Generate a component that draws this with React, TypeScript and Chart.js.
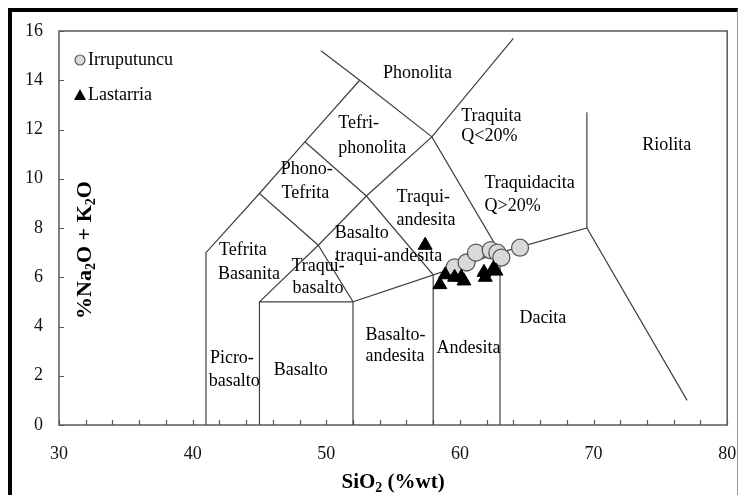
import React, { useEffect, useRef } from 'react';
import { Chart, registerables } from 'chart.js';
Chart.register(...registerables);

// ---- Data ----
const irruputuncuSiO2 = [59.6, 60.5, 61.2, 62.3, 62.8, 63.1, 64.5];
const irruputuncuAlk = [6.4, 6.6, 7.0, 7.1, 7.0, 6.8, 7.2];
const lastarriaSiO2 = [57.4, 58.5, 58.9, 59.6, 60.1, 60.3, 61.8, 61.9, 62.5, 62.7];
const lastarriaAlk = [7.3, 5.7, 6.1, 6.0, 6.0, 5.85, 6.2, 6.0, 6.35, 6.25];

// TAS field boundaries (SiO2, Na2O+K2O)
const boundaryA: [number, number][] = [[41, 0], [41, 7], [45, 9.4], [48.4, 11.5], [52.5, 14]];
const boundaryB: [number, number][] = [[49.6, 15.2], [52.5, 14], [57.9, 11.7], [63, 7]];
const boundaryC: [number, number][] = [[45, 0], [45, 5], [52, 5], [52, 0]];
const boundaryD: [number, number][] = [[45, 5], [49.4, 7.3], [53, 9.3], [57.9, 11.7], [64, 15.7]];
const boundaryE: [number, number][] = [[45, 9.4], [49.4, 7.3], [52, 5], [63, 7], [69.5, 8], [77, 1]];
const boundaryF: [number, number][] = [[48.4, 11.5], [53, 9.3], [58, 6.1], [58, 0]];
const boundaryG: [number, number][] = [[63, 7], [63, 0]];
const boundaryH: [number, number][] = [[69.5, 8], [69.5, 12.7]];
const boundaries = [boundaryA, boundaryB, boundaryC, boundaryD, boundaryE, boundaryF, boundaryG, boundaryH];

// Field names: [text, SiO2 at left of text, alkali at text centre]
const fieldNames: [string, number, number][] = [
  ['Phonolita', 54.25, 14.3],
  ['Tefri-', 50.9, 12.26],
  ['phonolita', 50.9, 11.25],
  ['Traquita', 60.1, 12.53],
  ['Q<20%', 60.1, 11.72],
  ['Riolita', 73.65, 11.34],
  ['Phono-', 46.6, 10.37],
  ['Tefrita', 46.65, 9.42],
  ['Traquidacita', 61.84, 9.8],
  ['Q>20%', 61.84, 8.9],
  ['Traqui-', 55.26, 9.23],
  ['andesita', 55.26, 8.33],
  ['Basalto', 50.63, 7.79],
  ['traqui-andesita', 50.68, 6.84],
  ['Tefrita', 41.98, 7.11],
  ['Basanita', 41.9, 6.14],
  ['Traqui-', 47.39, 6.46],
  ['basalto', 47.47, 5.56],
  ['Picro-', 41.29, 2.72],
  ['basalto', 41.2, 1.79],
  ['Basalto', 46.07, 2.24],
  ['Basalto-', 52.94, 3.66],
  ['andesita', 52.94, 2.8],
  ['Andesita', 58.25, 3.13],
  ['Dacita', 64.45, 4.35],
];

const seriesNames = ['Irruputuncu', 'Lastarria'];
const xTitle = ['SiO', '2', ' (%wt)'];
const yTitle = ['%Na', '2', 'O + K', '2', 'O'];

const SERIF = '"Liberation Serif", "Times New Roman", serif';
const AXIS_COLOR = '#595959';
const LINE_COLOR = '#404040';

function drawRuns(ctx: CanvasRenderingContext2D, runs: string[], size: number, cx: number, cy: number) {
  const subSize = Math.round(size * 0.65);
  let total = 0;
  runs.forEach((r, i) => {
    ctx.font = `bold ${i % 2 === 1 ? subSize : size}px ${SERIF}`;
    total += ctx.measureText(r).width;
  });
  let x = cx - total / 2;
  runs.forEach((r, i) => {
    const sub = i % 2 === 1;
    ctx.font = `bold ${sub ? subSize : size}px ${SERIF}`;
    ctx.fillText(r, x, cy + (sub ? size * 0.28 : 0));
    x += ctx.measureText(r).width;
  });
}

const decorPlugin = {
  id: 'tasDecor',
  beforeDatasetsDraw(chart: any) {
    const { ctx, chartArea, scales } = chart;
    const xs = scales.x;
    const ys = scales.y;
    ctx.save();
    ctx.strokeStyle = AXIS_COLOR;
    ctx.lineWidth = 1.5;
    ctx.strokeRect(chartArea.left, chartArea.top, chartArea.right - chartArea.left, chartArea.bottom - chartArea.top);
    ctx.lineWidth = 1.2;
    ctx.beginPath();
    for (let v = 30; v <= 80; v += 2) {
      const px = Math.round(xs.getPixelForValue(v)) + 0.5;
      ctx.moveTo(px, chartArea.bottom);
      ctx.lineTo(px, chartArea.bottom - 5);
    }
    for (let v = 0; v <= 16; v += 2) {
      const py = Math.round(ys.getPixelForValue(v)) + 0.5;
      ctx.moveTo(chartArea.left, py);
      ctx.lineTo(chartArea.left + 5, py);
    }
    ctx.stroke();
    ctx.restore();
  },
  afterDatasetsDraw(chart: any) {
    const { ctx, chartArea, scales } = chart;
    const xs = scales.x;
    const ys = scales.y;
    ctx.save();
    ctx.fillStyle = '#000';
    ctx.textBaseline = 'middle';
    ctx.textAlign = 'left';
    ctx.font = `18px ${SERIF}`;
    fieldNames.forEach(([t, x, y]) => {
      ctx.fillText(t, xs.getPixelForValue(x), ys.getPixelForValue(y));
    });
    // legend
    const lx = chartArea.left + 21;
    const ly1 = chartArea.top + 29;
    const ly2 = chartArea.top + 64;
    ctx.beginPath();
    ctx.arc(lx, ly1, 5, 0, Math.PI * 2);
    ctx.fillStyle = '#d9d9d9';
    ctx.fill();
    ctx.strokeStyle = '#595959';
    ctx.lineWidth = 1.2;
    ctx.stroke();
    ctx.beginPath();
    ctx.moveTo(lx, ly2 - 6);
    ctx.lineTo(lx + 6, ly2 + 5);
    ctx.lineTo(lx - 6, ly2 + 5);
    ctx.closePath();
    ctx.fillStyle = '#000';
    ctx.fill();
    ctx.font = `18px ${SERIF}`;
    ctx.fillText(seriesNames[0], lx + 8, ly1);
    ctx.fillText(seriesNames[1], lx + 8, ly2);
    // axis titles
    drawRuns(ctx, xTitle, 21, (chartArea.left + chartArea.right) / 2, chartArea.bottom + 58);
    ctx.save();
    ctx.translate(chartArea.left + 26, chartArea.top + 219);
    ctx.rotate(-Math.PI / 2);
    drawRuns(ctx, yTitle, 22, 0, 0);
    ctx.restore();
    ctx.restore();
  },
};

export default function App() {
  const ref = useRef<HTMLCanvasElement>(null);
  useEffect(() => {
    if (!ref.current) return;
    const lineSets = boundaries.map((b) => ({
      type: 'scatter' as const,
      data: b.map(([x, y]) => ({ x, y })),
      showLine: true,
      borderColor: LINE_COLOR,
      borderWidth: 1.2,
      pointRadius: 0,
      fill: false,
      order: 5,
    }));
    const chart = new Chart(ref.current, {
      type: 'scatter',
      data: {
        datasets: [
          {
            label: seriesNames[0],
            data: irruputuncuSiO2.map((x, i) => ({ x, y: irruputuncuAlk[i] })),
            pointStyle: 'circle',
            pointRadius: 8.5,
            pointBackgroundColor: '#d9d9d9',
            pointBorderColor: '#595959',
            pointBorderWidth: 1.3,
            order: 2,
          },
          {
            label: seriesNames[1],
            data: lastarriaSiO2.map((x, i) => ({ x, y: lastarriaAlk[i] })),
            pointStyle: 'triangle',
            pointRadius: 8,
            pointBackgroundColor: '#000',
            pointBorderColor: '#000',
            pointBorderWidth: 1,
            order: 1,
          },
          ...lineSets,
        ] as any,
      },
      options: {
        animation: false,
        responsive: false,
        maintainAspectRatio: false,
        layout: { padding: { left: 0, top: 19, right: 9, bottom: 0 } },
        plugins: { legend: { display: false }, tooltip: { enabled: false } },
        scales: {
          x: {
            type: 'linear',
            min: 30,
            max: 80,
            grid: { display: false },
            border: { display: false },
            ticks: {
              stepSize: 10,
              padding: 10,
              color: '#111',
              font: { family: SERIF, size: 18 },
            },
            afterFit: (s: any) => {
              s.height = 70;
              s.paddingLeft = 0;
              s.paddingRight = 0;
            },
          },
          y: {
            type: 'linear',
            min: 0,
            max: 16,
            grid: { display: false },
            border: { display: false },
            ticks: {
              stepSize: 2,
              padding: 8,
              color: '#111',
              font: { family: SERIF, size: 18 },
            },
            afterFit: (s: any) => {
              s.width = 47;
              s.paddingTop = 0;
              s.paddingBottom = 0;
            },
          },
        },
      },
      plugins: [decorPlugin],
    });
    return () => chart.destroy();
  }, []);
  return (
    <div
      style={{
        width: 725,
        height: 483,
        borderLeft: '4px solid #000',
        borderTop: '4px solid #000',
        borderRight: '1px solid #999',
        background: '#fff',
      }}
    >
      <canvas ref={ref} width={725} height={483} style={{ display: 'block', width: 725, height: 483 }} />
    </div>
  );
}
